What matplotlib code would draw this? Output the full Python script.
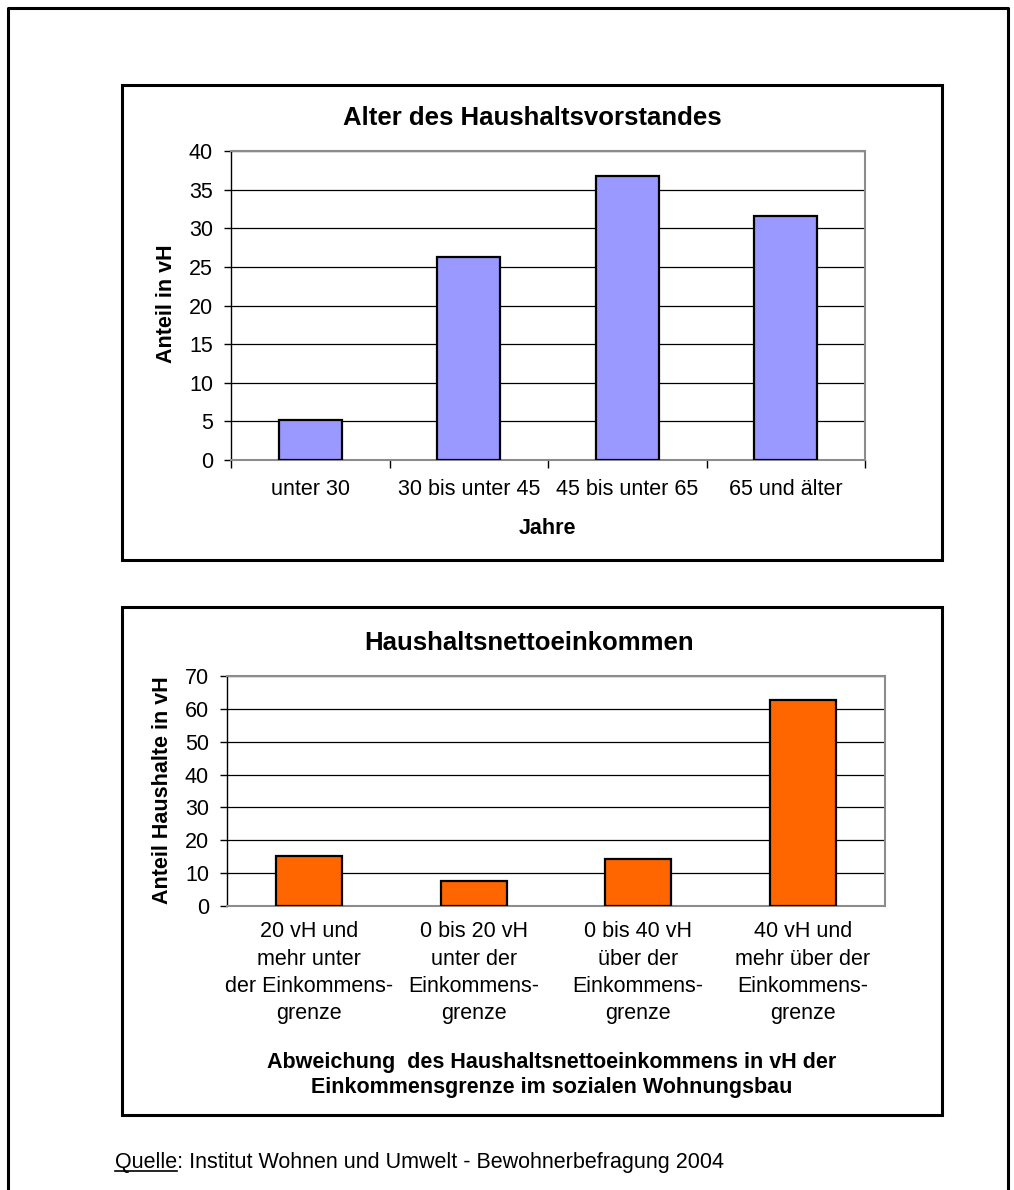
import matplotlib.pyplot as plt
from matplotlib.patches import Rectangle
from matplotlib.lines import Line2D

plt.rcParams['font.family'] = ['Liberation Sans', 'DejaVu Sans']

W, H = 1014, 1190

age_groups = ['unter 30', '30 bis unter 45', '45 bis unter 65', '65 und älter']
age_share = [5.2, 26.3, 36.8, 31.6]

income_groups = ['20 vH und\nmehr unter\nder Einkommens-\ngrenze',
                 '0 bis 20 vH\nunter der\nEinkommens-\ngrenze',
                 '0 bis 40 vH\nüber der\nEinkommens-\ngrenze',
                 '40 vH und\nmehr über der\nEinkommens-\ngrenze']
income_share = [15.2, 7.6, 14.3, 62.7]

FS = 15.5
TFS = 18.5


def fx(x):
    return x / W


def fy(y):
    return 1 - y / H


def box(fig, x0, y0, x1, y1, lw=2.2):
    fig.patches.append(Rectangle((fx(x0), fy(y1)), fx(x1) - fx(x0), fy(y0) - fy(y1),
                                 transform=fig.transFigure, fill=False,
                                 edgecolor='black', linewidth=lw))


def axes_px(fig, x0, y0, x1, y1):
    return fig.add_axes([fx(x0), fy(y1), fx(x1) - fx(x0), fy(y0) - fy(y1)])


def style(ax, ymax, step):
    ax.set_ylim(0, ymax)
    ax.set_xlim(-0.5, 3.5)
    ax.set_yticks(range(0, ymax + 1, step))
    ax.yaxis.grid(True, color='black', linewidth=0.9)
    ax.set_axisbelow(True)
    for s in ['top', 'right', 'bottom']:
        ax.spines[s].set_color('#8c8c8c')
        ax.spines[s].set_linewidth(1.5)
    ax.spines['left'].set_color('black')
    ax.spines['left'].set_linewidth(1.0)
    ax.tick_params(axis='y', length=5, width=1, labelsize=FS, pad=8)


fig = plt.figure(figsize=(W / 100, H / 100), dpi=100)

# outer frame (open at the bottom)
fig.add_artist(Line2D([fx(8), fx(8), fx(1008), fx(1008)], [fy(1190), fy(8), fy(8), fy(1190)],
                      transform=fig.transFigure, color='black', linewidth=2.2))

# --- chart 1 ---
box(fig, 122, 85, 942, 560)
ax1 = axes_px(fig, 231, 151, 865, 460)
style(ax1, 40, 5)
ax1.bar(range(len(age_groups)), age_share, width=0.4, color='#9999ff',
        edgecolor='black', linewidth=1.6, zorder=3)
ax1.set_xticks(range(len(age_groups)))
ax1.set_xticklabels(age_groups, fontsize=FS)
ax1.tick_params(axis='x', which='major', length=0, pad=14)
ax1.set_xticks([-0.5, 0.5, 1.5, 2.5, 3.5], minor=True)
ax1.tick_params(axis='x', which='minor', length=6, width=1, color='black')
fig.text(fx(532), fy(118), 'Alter des Haushaltsvorstandes', ha='center', va='center',
         fontsize=TFS, fontweight='bold')
fig.text(fx(166), fy(304), 'Anteil in vH', ha='center', va='center', rotation=90,
         fontsize=FS, fontweight='bold')
fig.text(fx(547), fy(529), 'Jahre', ha='center', va='center', fontsize=FS, fontweight='bold')

# --- chart 2 ---
box(fig, 122, 607, 942, 1115)
ax2 = axes_px(fig, 227, 676, 885, 906)
style(ax2, 70, 10)
ax2.bar(range(len(income_groups)), income_share, width=0.4, color='#ff6600',
        edgecolor='black', linewidth=1.6, zorder=3)
ax2.set_xticks(range(len(income_groups)))
ax2.set_xticklabels([''] * len(income_groups))
ax2.tick_params(axis='x', length=0)
for i, lab in enumerate(income_groups):
    ax2.annotate(lab, xy=(i, 0), xycoords=('data', 'axes fraction'), xytext=(0, -11),
                 textcoords='offset points', ha='center', va='top', fontsize=FS,
                 linespacing=1.39, annotation_clip=False)
fig.text(fx(529), fy(643), 'Haushaltsnettoeinkommen', ha='center', va='center',
         fontsize=TFS, fontweight='bold')
fig.text(fx(163), fy(790), 'Anteil Haushalte in vH', ha='center', va='center', rotation=90,
         fontsize=FS, fontweight='bold')
fig.text(fx(552), fy(1075),
         'Abweichung  des Haushaltsnettoeinkommens in vH der\nEinkommensgrenze im sozialen Wohnungsbau',
         ha='center', va='center', fontsize=FS, fontweight='bold', linespacing=1.24)

# source line, "Quelle" underlined
src = fig.text(fx(115), fy(1168), 'Quelle: Institut Wohnen und Umwelt - Bewohnerbefragung 2004',
               ha='left', va='baseline', fontsize=FS)
word = fig.text(fx(115), fy(1168), 'Quelle', ha='left', va='baseline', fontsize=FS, alpha=0)
fig.canvas.draw()
bb = word.get_window_extent(renderer=fig.canvas.get_renderer())
uy = fy(1171)
fig.add_artist(Line2D([bb.x0 / W, bb.x1 / W], [uy, uy], transform=fig.transFigure,
                      color='black', linewidth=1.2))

fig.savefig('out.png', dpi=100)
